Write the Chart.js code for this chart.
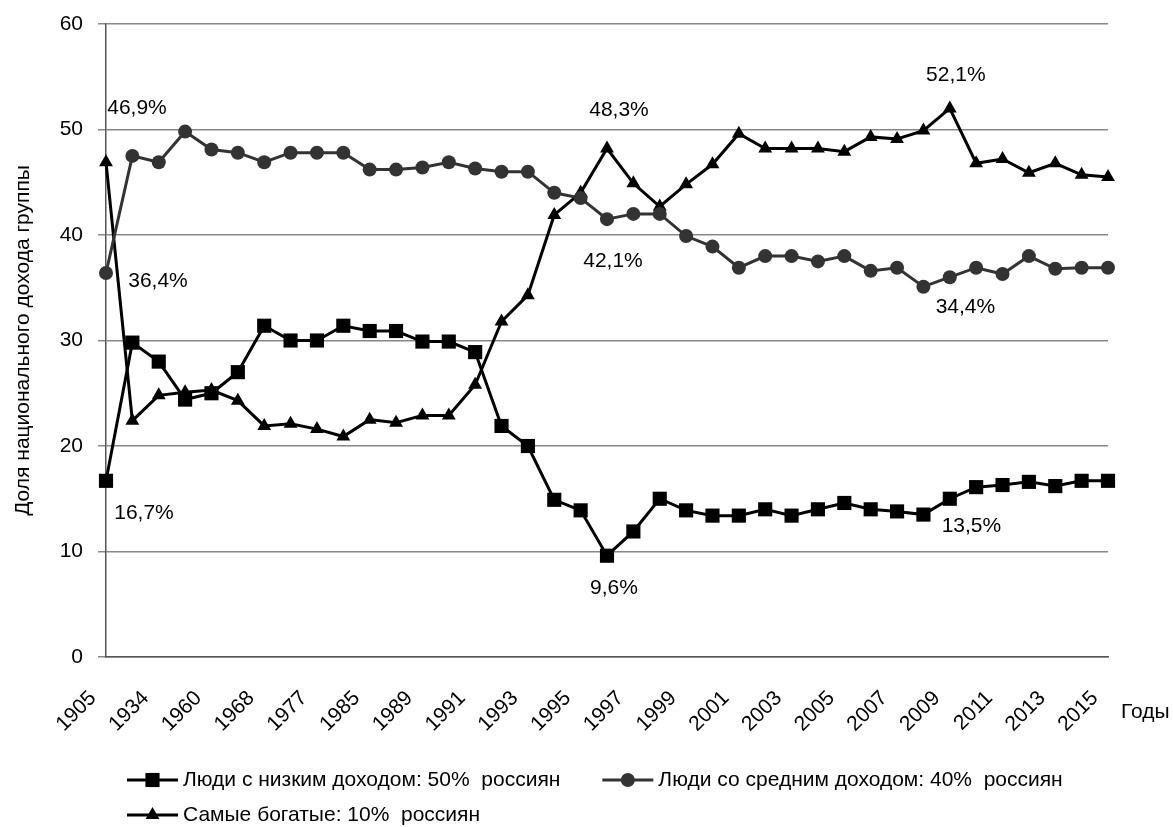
<!DOCTYPE html>
<html lang="ru">
<head>
<meta charset="utf-8">
<title>Доля национального дохода группы</title>
<script src="https://cdn.jsdelivr.net/npm/chart.js@4.4.1/dist/chart.umd.min.js"></script>
<style>
  html, body { margin: 0; padding: 0; background: #fff; }
  #wrap { width: 1173px; height: 827px; }
</style>
</head>
<body>
<div id="wrap"><canvas id="grafico" width="1173" height="827"></canvas></div>
<script>
// Years on the x axis (only every second one is printed)
const anos = [1905, 1928, 1934, 1950, 1960, 1965, 1968, 1973, 1977, 1980, 1985, 1987,
  1989, 1990, 1991, 1992, 1993, 1994, 1995, 1996, 1997, 1998, 1999, 2000, 2001, 2002,
  2003, 2004, 2005, 2006, 2007, 2008, 2009, 2010, 2011, 2012, 2013, 2014, 2015];

// Bottom 50%
const rendaBaixa = [16.7, 29.8, 28.0, 24.4, 25.0, 27.0, 31.4, 30.0, 30.0, 31.4, 30.9, 30.9,
  29.9, 29.9, 28.9, 21.9, 20.0, 14.9, 13.9, 9.6, 11.9, 15.0, 13.9, 13.4, 13.4, 14.0,
  13.4, 14.0, 14.6, 14.0, 13.8, 13.5, 15.0, 16.1, 16.3, 16.6, 16.2, 16.7, 16.7];

// Middle 40%
const rendaMedia = [36.4, 47.5, 46.9, 49.8, 48.1, 47.8, 46.9, 47.8, 47.8, 47.8, 46.2, 46.2,
  46.4, 46.9, 46.3, 46.0, 46.0, 44.0, 43.5, 41.5, 42.0, 42.0, 39.9, 38.9, 36.9, 38.0,
  38.0, 37.5, 38.0, 36.6, 36.9, 35.1, 36.0, 36.9, 36.3, 38.0, 36.8, 36.9, 36.9];

// Top 10%
const rendaAlta = [46.9, 22.4, 24.8, 25.1, 25.3, 24.3, 21.9, 22.1, 21.6, 20.9, 22.5, 22.2,
  22.9, 22.9, 25.8, 31.8, 34.3, 41.9, 44.0, 48.2, 44.9, 42.7, 44.8, 46.7, 49.6, 48.2,
  48.2, 48.2, 47.9, 49.3, 49.1, 49.9, 52.0, 46.8, 47.2, 45.9, 46.8, 45.7, 45.5];

const nomesSeries = [
  'Люди с низким доходом: 50%  россиян',
  'Люди со средним доходом: 40%  россиян',
  'Самые богатые: 10%  россиян'
];

// Value captions: dataset, point index, text
const rotulos = [
  [2, 0, '46,9%'], [1, 0, '36,4%'], [0, 0, '16,7%'],
  [2, 19, '48,3%'], [1, 19, '42,1%'], [0, 19, '9,6%'],
  [2, 32, '52,1%'], [1, 31, '34,4%'], [0, 31, '13,5%']
];
// where each caption sits relative to its point
const deslocamentos = [
  [31, -54], [52, 8], [38, 32],
  [12, -38], [6, 42], [7, 32],
  [6, -33], [42, 21], [48, 12]
];

const FONTE = '"Liberation Sans", Arial, sans-serif';
const TAM = 21;

// Draws a marker like the ones Chart.js uses
function desenharMarcador(ctx, estilo, x, y, raio, cor) {
  ctx.fillStyle = cor;
  ctx.beginPath();
  if (estilo === 'rect') {
    const s = raio * Math.SQRT1_2;
    ctx.rect(x - s, y - s, 2 * s, 2 * s);
  } else if (estilo === 'triangle') {
    ctx.moveTo(x, y - raio);
    ctx.lineTo(x + raio * 0.866, y + raio * 0.5);
    ctx.lineTo(x - raio * 0.866, y + raio * 0.5);
    ctx.closePath();
  } else {
    ctx.arc(x, y, raio, 0, Math.PI * 2);
  }
  ctx.fill();
}

// Captions, legend and the "Годы" label
const pluginExtras = {
  id: 'extras',
  afterDraw(chart) {
    const ctx = chart.ctx;
    const area = chart.chartArea;
    ctx.save();
    ctx.font = `${TAM}px ${FONTE}`;
    ctx.fillStyle = '#000';
    ctx.textAlign = 'center';
    ctx.textBaseline = 'middle';
    rotulos.forEach((r, i) => {
      const p = chart.getDatasetMeta(r[0]).data[r[1]];
      ctx.fillText(r[2], p.x + deslocamentos[i][0], p.y + deslocamentos[i][1]);
    });

    ctx.textAlign = 'left';
    ctx.fillText('Годы', area.right + 13, area.bottom + 55);

    // legend: two items on the first row, one on the second
    const linhas = [[0, 1], [2]];
    let y = area.bottom + 123;
    for (const linha of linhas) {
      let x = 127;
      for (const i of linha) {
        const ds = chart.data.datasets[i];
        ctx.strokeStyle = ds.borderColor;
        ctx.lineWidth = 3;
        ctx.beginPath();
        ctx.moveTo(x, y);
        ctx.lineTo(x + 51, y);
        ctx.stroke();
        desenharMarcador(ctx, ds.pointStyle, x + 25.5, y, ds.pointRadius, ds.pointBackgroundColor);
        ctx.fillStyle = '#000';
        ctx.fillText(nomesSeries[i], x + 56, y);
        x += 56 + ctx.measureText(nomesSeries[i]).width + 42;
      }
      y += 35;
    }
    ctx.restore();
  }
};

const ctx = document.getElementById('grafico').getContext('2d');

new Chart(ctx, {
  type: 'line',
  data: {
    labels: anos,
    datasets: [
      {
        label: nomesSeries[0],
        data: rendaBaixa,
        borderColor: '#000',
        backgroundColor: '#000',
        pointBackgroundColor: '#000',
        pointBorderColor: '#000',
        pointStyle: 'rect',
        pointRadius: 10,
        borderWidth: 3,
        pointBorderWidth: 0
      },
      {
        label: nomesSeries[1],
        data: rendaMedia,
        borderColor: '#333',
        backgroundColor: '#333',
        pointBackgroundColor: '#333',
        pointBorderColor: '#333',
        pointStyle: 'circle',
        pointRadius: 7,
        borderWidth: 3,
        pointBorderWidth: 0
      },
      {
        label: nomesSeries[2],
        data: rendaAlta,
        borderColor: '#000',
        backgroundColor: '#000',
        pointBackgroundColor: '#000',
        pointBorderColor: '#000',
        pointStyle: 'triangle',
        pointRadius: 8,
        borderWidth: 3,
        pointBorderWidth: 0
      }
    ]
  },
  options: {
    responsive: false,
    animation: false,
    layout: { padding: { left: 0, right: 65, top: 24, bottom: 0 } },
    plugins: {
      legend: { display: false },
      tooltip: { enabled: false }
    },
    scales: {
      x: {
        offset: false,
        grid: { display: false, drawTicks: false },
        border: { display: true, color: '#555', width: 1.5 },
        ticks: {
          autoSkip: false,
          minRotation: 45,
          maxRotation: 45,
          padding: 29,
          labelOffset: -13,
          color: '#000',
          font: { family: FONTE, size: TAM },
          callback: (v, i) => (i % 2 === 0 ? anos[i] : '')
        },
        afterFit: (s) => { s.height = 170; }
      },
      y: {
        min: 0,
        max: 60,
        ticks: {
          stepSize: 10,
          padding: 15,
          color: '#000',
          font: { family: FONTE, size: TAM }
        },
        grid: { color: '#888', lineWidth: 1.5, tickLength: 8 },
        border: { display: true, color: '#555', width: 1.5 },
        title: {
          display: true,
          text: 'Доля национального дохода группы',
          color: '#000',
          font: { family: FONTE, size: TAM },
          padding: { top: 11, bottom: 0 }
        },
        afterFit: (s) => {
          s.width = 106;
          // the tick padding should not push the plot down
          s.paddingTop = 12;
          s.paddingBottom = 12;
        }
      }
    }
  },
  plugins: [pluginExtras]
});
</script>
</body>
</html>
